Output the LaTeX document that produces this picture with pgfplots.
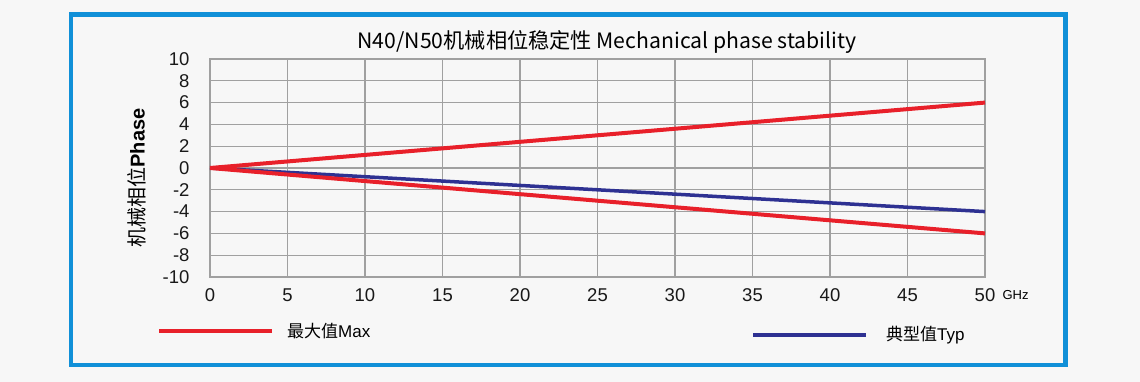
\documentclass[border=0pt]{standalone}
\usepackage{pgfplots}
\pgfplotsset{compat=1.18}
\usepackage{fontspec}
\setmainfont{Liberation Sans}
\newfontfamily\cjk{Noto Sans CJK SC}
\definecolor{bgc}{HTML}{F7F7F7}
\definecolor{framec}{HTML}{1190D8}
\definecolor{redc}{HTML}{E8202A}
\definecolor{bluec}{HTML}{2E3192}
\definecolor{gridc}{HTML}{A0A0A0}
\begin{document}
\begin{tikzpicture}
\fill[bgc] (0pt,0pt) rectangle (1140pt,382pt);
\draw[framec, line width=4.5pt] (71pt,17pt) rectangle (1065.5pt,367.5pt);
\begin{axis}[
  at={(210pt,105pt)}, anchor=south west,
  width=775pt, height=218pt, scale only axis,
  xmin=0, xmax=50, ymin=-10, ymax=10,
  xtick={0,5,...,50}, ytick={-10,-8,...,10},
  grid=major,
  grid style={gridc, line width=1.3pt},
  axis line style={gridc, line width=1.3pt},
  major tick length=0pt,
  tick label style={font=\fontsize{18.5}{18.5}\selectfont, text=black!90},
  /pgf/number format/assume math mode=true,
  yticklabel style={xshift=-17pt},
  xticklabel style={yshift=-8pt},
  clip=false,
]
\addplot[bluec, line width=3.5pt] coordinates {(0,0) (50,-4)};
\addplot[redc, line width=4pt] coordinates {(0,0) (50,6)};
\addplot[redc, line width=4pt] coordinates {(0,0) (50,-6)};
\end{axis}
\node at (607pt,340pt) {\cjk\fontsize{21.2}{21.2}\selectfont N40/N50机械相位稳定性 Mechanical phase stability};
\node[anchor=west] at (999pt,87pt) {\fontsize{13}{13}\selectfont GHz};
\node[rotate=90] at (137pt,204pt) {\fontsize{20}{20}\selectfont{\cjk 机械相位}\textbf{Phase}};
\draw[redc, line width=4pt] (159pt,51pt) -- (272pt,51pt);
\node[anchor=west, inner sep=0pt] at (287pt,51pt) {\fontsize{17}{17}\selectfont{\cjk 最大值}Max};
\draw[bluec, line width=4pt] (753pt,47pt) -- (866pt,47pt);
\node[anchor=west, inner sep=0pt] at (886pt,47pt) {\fontsize{17}{17}\selectfont{\cjk 典型值}Typ};
\end{tikzpicture}
\end{document}
